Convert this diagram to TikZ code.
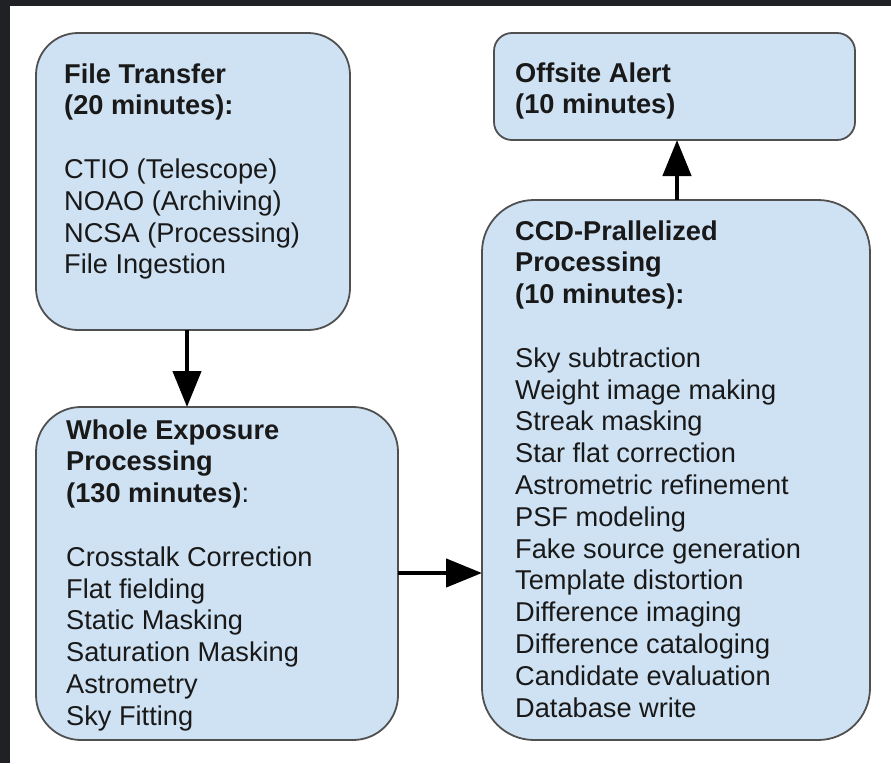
\documentclass[tikz,border=0pt]{standalone}
\usepackage{fontspec}
\setmainfont{Liberation Sans}
\usetikzlibrary{arrows.meta}
\definecolor{boxfill}{HTML}{CFE2F3}
\definecolor{boxline}{HTML}{505050}
\definecolor{frameclr}{HTML}{202124}
\tikzset{
  box/.style={draw=boxline, line width=1.8pt, fill=boxfill, inner sep=0pt, outer sep=0pt},
  txt/.style={anchor=base west, inner sep=0pt, text=black!90, font=\fontsize{27.2}{31.8}\selectfont},
  arr/.style={line width=4.5pt, -{Triangle[length=36pt,width=28pt]}}
}
\begin{document}
\begin{tikzpicture}[x=1pt,y=-1pt]
\useasboundingbox (0,0) rectangle (891,763);
\fill[white] (0,0) rectangle (891,763);
\fill[frameclr] (0,0) rectangle (891,6);
\fill[frameclr] (0,0) rectangle (10,763);
% boxes
\node[box, rounded corners=42pt, minimum width=314pt, minimum height=297pt] (ft) at (193,181.5) {};
\node[box, rounded corners=45pt, minimum width=362pt, minimum height=333pt] (we) at (217,573.5) {};
\node[box, rounded corners=52pt, minimum width=388pt, minimum height=540pt] (ccd) at (676,470) {};
\node[box, rounded corners=18pt, minimum width=361pt, minimum height=107pt] (oa) at (674.5,86.5) {};
% texts
\node[txt] (ftt) at (64,83) {\begin{tabular}[t]{@{}l@{}}\textbf{File Transfer}\\ \textbf{(20 minutes):}\\ \\ CTIO (Telescope)\\ NOAO (Archiving)\\ NCSA (Processing)\\ File Ingestion\end{tabular}};
\node[txt] (wet) at (66,439) {\begin{tabular}[t]{@{}l@{}}\textbf{Whole Exposure}\\ \textbf{Processing}\\ \textbf{(130 minutes)}:\\ \\ Crosstalk Correction\\ Flat fielding\\ Static Masking\\ Saturation Masking\\ Astrometry\\ Sky Fitting\end{tabular}};
\node[txt] (ccdt) at (515,240) {\begin{tabular}[t]{@{}l@{}}\textbf{CCD-Prallelized}\\ \textbf{Processing}\\ \textbf{(10 minutes):}\\ \\ Sky subtraction\\ Weight image making\\ Streak masking\\ Star flat correction\\ Astrometric refinement\\ PSF modeling\\ Fake source generation\\ Template distortion\\ Difference imaging\\ Difference cataloging\\ Candidate evaluation\\ Database write\end{tabular}};
\node[txt] (oat) at (515,82) {\begin{tabular}[t]{@{}l@{}}\textbf{Offsite Alert}\\ \textbf{(10 minutes)}\end{tabular}};
% connectors
\coordinate (dx) at (187,0);
\coordinate (ry) at (0,573);
\coordinate (ux) at (677,0);
\draw[arr] (ft.south -| dx) -- (we.north -| dx);
\draw[arr] (we.east |- ry) -- (ccd.west |- ry);
\draw[arr] (ccd.north -| ux) -- (oa.south -| ux);
\end{tikzpicture}
\end{document}
